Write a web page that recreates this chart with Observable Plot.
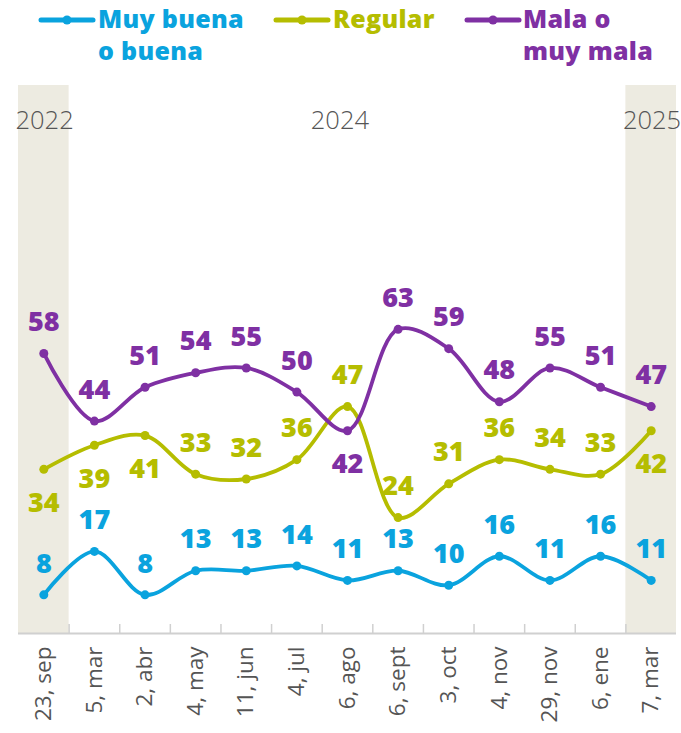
<!DOCTYPE html>
<html>
<head>
<meta charset="utf-8">
<script src="https://cdn.jsdelivr.net/npm/d3@7"></script>
<script src="https://cdn.jsdelivr.net/npm/@observablehq/plot@0.6"></script>
<style>
  html, body { margin: 0; padding: 0; background: #fff; }
  body { width: 681px; height: 733px; overflow: hidden; font-family: "Open Sans", sans-serif; }
  #legend { position: relative; width: 681px; height: 80px; }
  .sw { position: absolute; top: 10px; }
  .lt { position: absolute; top: 2px; font-size: 25px; font-weight: 800; line-height: 32px; white-space: pre; letter-spacing: 0.3px; }
</style>
</head>
<body>
<div id="legend"></div>
<div id="chart"></div>
<script>
// ---- data ----
const dates = ["23, sep","5, mar","2, abr","4, may","11, jun","4, jul","6, ago","6, sept","3, oct","4, nov","29, nov","6, ene","7, mar"];
const buena   = [8, 17, 8, 13, 13, 14, 11, 13, 10, 16, 11, 16, 11];
const regular = [34, 39, 41, 33, 32, 36, 47, 24, 31, 36, 34, 33, 42];
const mala    = [58, 44, 51, 54, 55, 50, 42, 63, 59, 48, 55, 51, 47];
const seriesNames = ["Muy buena\no buena", "Regular", "Mala o\nmuy mala"];
const seriesColors = ["#0aa3de", "#b5bd00", "#7f30a3"];
// label placement (indices where label sits below the point)
const regularBelow = [0, 1, 2, 12];
const malaBelow = [6];
// year annotations
const edgeYears = ["2022", "2025"];
const edgeYearAt = [-0.5, 11.5];
const midYears = ["2024"];
const midYearAt = [5.85];
const shadedIdx = [0, 12];

// ---- legend ----
const legend = document.getElementById("legend");
const swX = [40, 275, 466], txX = [98, 333, 523];
seriesNames.forEach((name, k) => {
  const sw = document.createElementNS("http://www.w3.org/2000/svg", "svg");
  sw.setAttribute("class", "sw");
  sw.setAttribute("width", 58); sw.setAttribute("height", 20);
  sw.style.left = (swX[k] - 2) + "px";
  sw.innerHTML = `<line x1="3" y1="10" x2="55" y2="10" stroke="${seriesColors[k]}" stroke-width="5" stroke-linecap="round"/>
    <circle cx="29" cy="10" r="4.5" fill="${seriesColors[k]}"/>`;
  legend.appendChild(sw);
  const t = document.createElement("div");
  t.className = "lt";
  t.style.left = txX[k] + "px";
  t.style.color = seriesColors[k];
  t.textContent = name;
  legend.appendChild(t);
});

// ---- table ----
const table = [];
[buena, regular, mala].forEach((vals, k) => {
  vals.forEach((v, i) => {
    let below = false;
    if (k === 1) below = regularBelow.includes(i);
    if (k === 2) below = malaBelow.includes(i);
    table.push({series: k, i, v, below});
  });
});

const H = 653, mT = 5, mB = 100;
const frameH = H - mT - mB;
const idx = d3.range(dates.length);
const halves = d3.range(dates.length - 1).map(i => i + 0.5);
const labelOpts = {x: "i", y: "v", text: d => String(d.v), fill: d => seriesColors[d.series], fontSize: 27, fontWeight: 800};
const yearOpts = {frameAnchor: "top", dy: 25, fontSize: 25.5, fontWeight: 300, fill: "#555"};

const chart = Plot.plot({
  width: 681,
  height: H,
  marginTop: mT,
  marginBottom: mB,
  marginLeft: 18,
  marginRight: 5,
  style: {fontFamily: "Open Sans, sans-serif", background: "#fff", overflow: "visible"},
  x: {domain: [-0.5, dates.length - 0.5], axis: null, label: null},
  y: {domain: [0, 113.5], axis: null, label: null},
  marks: [
    Plot.rect(shadedIdx, {x1: i => i - 0.5, x2: i => i + 0.5, fill: "#edebe1"}),
    Plot.text(edgeYears, {...yearOpts, x: (d, j) => edgeYearAt[j], text: d => d, textAnchor: "start", dx: -3}),
    Plot.text(midYears, {...yearOpts, x: (d, j) => midYearAt[j], text: d => d, textAnchor: "middle"}),
    Plot.ruleY([0], {stroke: "#d0d0d0", strokeWidth: 2}),
    Plot.tickX(halves, {x: d => d, stroke: "#d0d0d0", strokeWidth: 1.5, insetTop: frameH - 9}),
    Plot.axisX(idx, {tickFormat: i => dates[i], tickRotate: -90, tickSize: 0, tickPadding: 13,
      fontSize: 22.5, fontWeight: 400, color: "#555", label: null}),
    Plot.line(table, {x: "i", y: "v", z: "series", stroke: d => seriesColors[d.series],
      strokeWidth: 3.8, curve: "catmull-rom"}),
    Plot.dot(table, {x: "i", y: "v", r: 4.5, fill: d => seriesColors[d.series]}),
    Plot.text(table.filter(d => !d.below), {...labelOpts, dy: -31}),
    Plot.text(table.filter(d => d.below), {...labelOpts, dy: 34})
  ]
});
document.getElementById("chart").appendChild(chart);
</script>
</body>
</html>
